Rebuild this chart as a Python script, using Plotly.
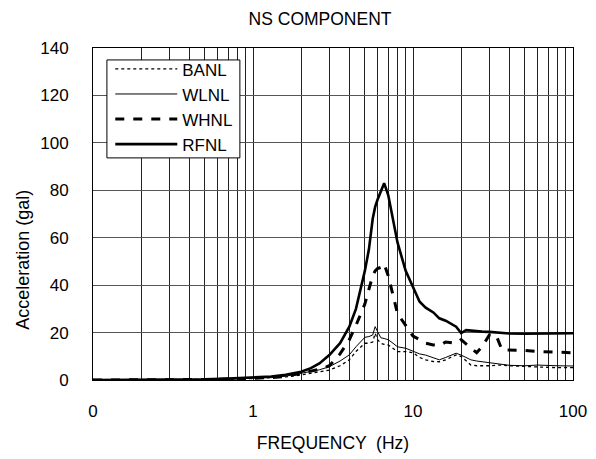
import plotly.graph_objects as go

freq = [0.1, 0.2, 0.3, 0.5, 0.7, 1.0, 1.3, 1.6, 2.0, 2.3, 2.6, 3.0, 3.5, 4.0, 4.4,
        5.0, 5.3, 5.6, 5.8, 6.0, 6.3, 6.6, 7.0, 7.5, 8.0, 9.0, 10, 11, 12, 13.4,
        14.6, 16, 18.6, 20, 21.5, 23, 25, 27, 30, 33, 36, 40, 50, 60, 80, 100]

banl = [0, 0, 0.1, 0.2, 0.3, 0.6, 0.9, 1.3, 2.1, 2.8, 3.5, 4.2, 6, 8.5, 12,
        15.5, 15.5, 16, 19.7, 17, 15.5, 15, 14.8, 13.5, 12, 12, 11.5, 9.5, 8.5, 7.8,
        7.7, 8.5, 10.6, 9.9, 8, 6.3, 6, 5.9, 6, 6.2, 6.3, 6, 5.6, 5.5, 5.2, 5.2]

wlnl = [0, 0, 0.1, 0.2, 0.4, 0.7, 1.0, 1.6, 2.8, 3.5, 4.3, 5.6, 8, 10.6, 14,
        18, 18.3, 19, 22.5, 20.5, 17.8, 17.5, 17, 15.5, 14, 13.4, 12, 11, 10.5, 9.5,
        8.5, 9.5, 11.3, 10.5, 9.5, 8.5, 8, 7.7, 7.2, 7, 6.6, 6.2, 6, 6.3, 6, 5.9]

whnl = [0, 0, 0.1, 0.2, 0.4, 0.7, 1.0, 1.5, 2.8, 3.5, 4.5, 6, 11, 17, 23,
        32, 38, 44, 46, 47, 47.5, 49, 44, 35, 28, 23, 18.5, 17, 15.5, 14.8,
        14.5, 16, 15.5, 17, 15, 13.5, 11.5, 14, 19, 19, 12.7, 12.7, 12.5, 12, 11.7, 11.5]

rfnl = [0, 0, 0.1, 0.3, 0.6, 1.0, 1.5, 2.2, 3.5, 5, 7, 10.5, 15.5, 22.5, 30,
        46, 55, 68, 73, 76, 80, 83, 78, 67, 58, 46, 39, 33, 30.5, 28.5,
        26, 25, 22.5, 19.8, 21, 20.8, 20.5, 20.4, 20.3, 20, 19.8, 19.6, 19.5, 19.6, 19.7, 19.7]

x_grid = [m * 10 ** d for d in (-1, 0, 1) for m in range(1, 10)] + [100]
x_labels = {0.1: "0", 1: "1", 10: "10", 100: "100"}
x_text = [x_labels.get(round(v, 6), "") for v in x_grid]
y_ticks = [0, 20, 40, 60, 80, 100, 120, 140]

font = "Liberation Sans, Arial, sans-serif"

fig = go.Figure()
fig.add_trace(go.Scatter(x=freq, y=banl, name="BANL", mode="lines",
                         line=dict(color="black", width=1.3, dash="dot")))
fig.add_trace(go.Scatter(x=freq, y=wlnl, name="WLNL", mode="lines",
                         line=dict(color="black", width=1)))
fig.add_trace(go.Scatter(x=freq, y=whnl, name="WHNL", mode="lines",
                         line=dict(color="black", width=3, dash="dash")))
fig.add_trace(go.Scatter(x=freq, y=rfnl, name="RFNL", mode="lines",
                         line=dict(color="black", width=2.6)))

# legend frame
fig.add_shape(type="rect", xref="paper", yref="paper",
              x0=0.029, x1=0.306, y0=0.669, y1=0.964,
              line=dict(color="black", width=1), fillcolor="white", layer="above")

fig.add_annotation(text="Acceleration (gal)", xref="paper", yref="paper",
                   x=-0.146, y=0.362, xanchor="center", yanchor="middle",
                   textangle=-90, showarrow=False, font=dict(size=18))

fig.update_layout(
    width=596, height=459,
    margin=dict(l=93, r=23, t=48, b=79),
    paper_bgcolor="white", plot_bgcolor="white",
    font=dict(family=font, size=17, color="black"),
    title=dict(text="NS COMPONENT", x=0.537, xanchor="center", y=0.972, yanchor="top",
               font=dict(size=17.5)),
    showlegend=True,
    legend=dict(x=0.036, y=0.99, xanchor="left", yanchor="top",
                borderwidth=0, bgcolor="rgba(0,0,0,0)",
                itemwidth=62, font=dict(size=17), tracegroupgap=0),
    xaxis=dict(type="log", range=[-1, 2], tickvals=x_grid, ticktext=x_text,
               showgrid=True, gridcolor="#222222", gridwidth=1,
               showline=True, linecolor="black", linewidth=1, mirror=True,
               ticks="", ticklabelstandoff=16, automargin=False,
               title=dict(text="FREQUENCY  (Hz)", standoff=16, font=dict(size=17.5))),
    yaxis=dict(range=[0, 140], tickvals=y_ticks,
               showgrid=True, gridcolor="#555555", gridwidth=1,
               showline=True, linecolor="black", linewidth=1, mirror=True,
               ticks="", ticklabelstandoff=20, zeroline=False, automargin=False),
)

fig.write_html("out.html")
